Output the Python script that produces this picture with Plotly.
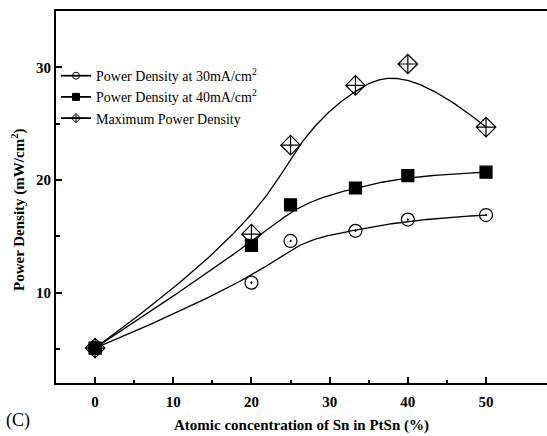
import numpy as np
import plotly.graph_objects as go

# Sn content of the PtSn catalysts (atomic %)
sn_content = [0, 20, 25, 33.3, 40, 50]

# Power densities (mW/cm^2)
pd_30mA = [5.1, 10.9, 14.6, 15.5, 16.5, 16.9]
pd_40mA = [5.1, 14.2, 17.8, 19.3, 20.4, 20.7]
pd_max = [5.1, 15.2, 23.1, 28.4, 30.3, 24.7]

x_ticks = [0, 10, 20, 30, 40, 50]
y_ticks = [10, 20, 30]


def bspline(xs, ys, n=300, k=3):
    """Clamped uniform B-spline using the data points as control points."""
    P = np.column_stack([xs, ys]).astype(float)
    m = len(P)
    knots = np.concatenate([np.zeros(k), np.linspace(0, 1, m - k + 1), np.ones(k)])
    t = np.linspace(0, 1, n)
    t[-1] = 1 - 1e-12

    def basis(i, d, tt):
        if d == 0:
            return np.where((knots[i] <= tt) & (tt < knots[i + 1]), 1.0, 0.0)
        out = np.zeros_like(tt)
        den1 = knots[i + d] - knots[i]
        den2 = knots[i + d + 1] - knots[i + 1]
        if den1 > 0:
            out += (tt - knots[i]) / den1 * basis(i, d - 1, tt)
        if den2 > 0:
            out += (knots[i + d + 1] - tt) / den2 * basis(i + 1, d - 1, tt)
        return out

    B = np.array([basis(i, k, t) for i in range(m)])
    C = B.T @ P
    return C[:, 0], C[:, 1]


fig = go.Figure()

series = [
    (pd_30mA, "circle-open-dot", 13, "Power Density at 30mA/cm<sup>2</sup>"),
    (pd_40mA, "square", 12, "Power Density at 40mA/cm<sup>2</sup>"),
    (pd_max, "diamond-cross-open", 15, "Maximum Power Density"),
]

for vals, sym, size, name in series:
    cx, cy = bspline(sn_content, vals)
    fig.add_trace(go.Scatter(x=cx, y=cy, mode="lines",
                             line=dict(color="black", width=1.3),
                             showlegend=False, hoverinfo="skip"))
    fig.add_trace(go.Scatter(x=sn_content, y=vals, mode="markers",
                             marker=dict(symbol=sym, size=size, color="black",
                                         line=dict(color="black", width=1.2)),
                             showlegend=False))
    # legend entry: short line with a small marker
    fig.add_trace(go.Scatter(x=[None], y=[None], mode="lines+markers", name=name,
                             line=dict(color="black", width=1.8),
                             marker=dict(symbol=sym, size=7, color="black",
                                         line=dict(color="black", width=1))))

axis_font = dict(family="Liberation Serif", size=15, color="black")

fig.update_layout(
    width=547, height=436,
    margin=dict(l=56, r=0, t=11, b=53),
    paper_bgcolor="white", plot_bgcolor="white",
    showlegend=True,
    legend=dict(x=0.0, y=0.868, xanchor="left", yanchor="top",
                bgcolor="rgba(0,0,0,0)", borderwidth=0,
                font=dict(family="Liberation Serif", size=14, color="black"),
                itemwidth=30, tracegroupgap=0),
    xaxis=dict(range=[-5, 57.8], tickvals=x_ticks, ticktext=[str(v) for v in x_ticks],
               ticks="inside", ticklen=6, tickwidth=2, tickcolor="black",
               minor=dict(tickvals=[5, 15, 25, 35, 45], ticks="inside", ticklen=3,
                          tickwidth=2, tickcolor="black"),
               showline=True, linewidth=2, linecolor="black", mirror=True,
               showgrid=False, zeroline=False, ticklabelstandoff=4,
               tickfont=dict(family="Liberation Serif", size=15, color="black", weight="bold"),
               title=dict(text="<b>Atomic concentration of Sn in PtSn (%)</b>",
                          font=axis_font, standoff=10)),
    yaxis=dict(range=[2, 35], tickvals=y_ticks, ticktext=[str(v) for v in y_ticks],
               ticks="inside", ticklen=6, tickwidth=2, tickcolor="black",
               minor=dict(tickvals=[5, 15, 25], ticks="inside", ticklen=4,
                          tickwidth=2, tickcolor="black"),
               showline=True, linewidth=2, linecolor="black",
               showgrid=False, zeroline=False,
               tickfont=dict(family="Liberation Serif", size=15, color="black", weight="bold")),
)

# y-axis title
fig.add_annotation(text="<b>Power Density (mW/cm<sup>2</sup>)</b>", textangle=-90,
                   xref="paper", yref="paper", x=-0.0774, y=0.465,
                   xanchor="center", yanchor="middle", showarrow=False,
                   font=axis_font)

fig.add_annotation(text="(C)", xref="paper", yref="paper", x=-0.105, y=-0.10,
                   xanchor="left", yanchor="middle", showarrow=False,
                   font=dict(family="Liberation Serif", size=18, color="black"))

fig.write_html("out.html")
